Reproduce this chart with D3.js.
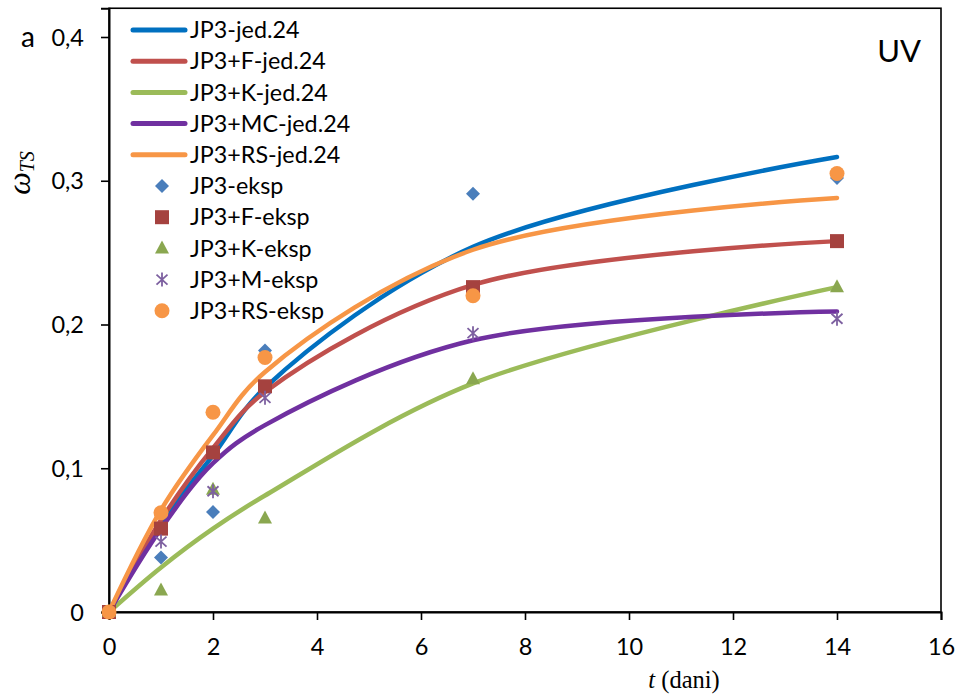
<!DOCTYPE html>
<html><head><meta charset="utf-8">
<script src="https://cdn.jsdelivr.net/npm/d3@7"></script>
<style>
html,body{margin:0;padding:0;background:#fff;}
svg{display:block;}
</style></head>
<body>
<svg id="chart" width="960" height="695"></svg>
<script>
// ---- data ----
const days = [0, 1, 2, 3, 7, 14];
const xTicks = [0, 2, 4, 6, 8, 10, 12, 14, 16];
const yTicks = [0, 0.1, 0.2, 0.3, 0.4];
const yTickLabels = ["0", "0,1", "0,2", "0,3", "0,4"];

const modelNames = ["JP3-jed.24", "JP3+F-jed.24", "JP3+K-jed.24", "JP3+MC-jed.24", "JP3+RS-jed.24"];
const modelColors = ["#0070C0", "#C0504D", "#9BBB59", "#7030A0", "#F79646"];
const jp3Model = [0, 0.062, 0.109, 0.156, 0.254, 0.3165];
const fModel   = [0, 0.064, 0.114, 0.153, 0.2275, 0.258];
const kModel   = [0, 0.031, 0.058, 0.081, 0.159, 0.226];
const mcModel  = [0, 0.058, 0.1035, 0.130, 0.189, 0.209];
const rsModel  = [0, 0.071, 0.123, 0.167, 0.252, 0.288];

const expNames = ["JP3-eksp", "JP3+F-eksp", "JP3+K-eksp", "JP3+M-eksp", "JP3+RS-eksp"];
const expColors = ["#4A7EBB", "#A5423F", "#8AA750", "#7D60A0", "#F79646"];
const expShapes = ["diamond", "square", "triangle", "asterisk", "circle"];
const jp3Exp = [0, 0.038, 0.0695, 0.182, 0.291, 0.302];
const fExp   = [0, 0.058, 0.111, 0.157, 0.226, 0.258];
const kExp   = [0, 0.015, 0.085, 0.065, 0.162, 0.226];
const mExp   = [0, 0.049, 0.084, 0.149, 0.194, 0.204];
const rsExp  = [0, 0.069, 0.139, 0.177, 0.220, 0.305];

const models = [jp3Model, fModel, kModel, mcModel, rsModel];
const exps = [jp3Exp, fExp, kExp, mExp, rsExp];

// ---- layout ----
const svg = d3.select("#chart");
const L = 109, R = 941, T = 8.25, B = 612;
const x = d3.scaleLinear().domain([0, 16]).range([L, R]);
const y = d3.scaleLinear().domain([0, 0.42]).range([B, T]);
const sans = "Lato, 'Open Sans', sans-serif";
const serif = "'Liberation Serif', 'DejaVu Serif', serif";

// frame
svg.append("rect").attr("x", L).attr("y", T).attr("width", R - L).attr("height", B - T)
  .attr("fill", "none").attr("stroke", "#000").attr("stroke-width", 1.6);

// axes
const xAxis = d3.axisBottom(x).tickValues(xTicks).tickSize(8).tickFormat(d3.format("d"));
const gx = svg.append("g").attr("transform", `translate(0,${B})`).call(xAxis);
gx.select(".domain").attr("stroke-width", 2);
gx.selectAll(".tick line").attr("stroke-width", 1.6);
gx.selectAll("text").attr("font-family", sans).attr("font-size", 23.5).attr("fill", "#000").attr("dy", "0").attr("y", 43);

const yAxis = d3.axisLeft(y).tickValues(yTicks).tickSize(8).tickFormat((d, i) => yTickLabels[i]);
const gy = svg.append("g").attr("transform", `translate(${L},0)`).call(yAxis);
gy.select(".domain").attr("stroke-width", 2);
gy.selectAll(".tick line").attr("stroke-width", 1.6);
gy.selectAll("text").attr("font-family", sans).attr("font-size", 23.5).attr("fill", "#000").attr("x", -25).attr("dy", "0.35em");

// model lines
const line = d3.line().x((d, i) => x(days[i])).y(d => y(d)).curve(d3.curveCatmullRom.alpha(0.5));
models.forEach((m, k) => {
  svg.append("path").datum(m).attr("d", line).attr("fill", "none")
    .attr("stroke", modelColors[k]).attr("stroke-width", 4.5).attr("stroke-linecap", "round").attr("stroke-linejoin", "round");
});

// markers
function marker(g, shape, color) {
  if (shape === "diamond") {
    g.append("path").attr("d", "M0,-7L7,0L0,7L-7,0Z").attr("fill", color);
  } else if (shape === "square") {
    g.append("rect").attr("x", -7).attr("y", -7).attr("width", 14).attr("height", 14).attr("fill", color);
  } else if (shape === "triangle") {
    g.append("path").attr("d", "M0,-8L7,5L-7,5Z").attr("fill", color);
  } else if (shape === "asterisk") {
    g.append("path").attr("d", "M0,-7L0,7M-5.5,-5L5.5,5M-5.5,5L5.5,-5").attr("stroke", color).attr("stroke-width", 1.8).attr("fill", "none");
  } else {
    g.append("circle").attr("r", 7.5).attr("fill", color);
  }
}
exps.forEach((e, k) => {
  e.forEach((v, i) => {
    const g = svg.append("g").attr("transform", `translate(${x(days[i])},${y(v)})`);
    marker(g, expShapes[k], expColors[k]);
  });
});

// legend
const lg = svg.append("g");
const rowH = 31.2, row0 = 30;
modelNames.forEach((n, k) => {
  const yy = row0 + k * rowH;
  lg.append("line").attr("x1", 133).attr("x2", 185).attr("y1", yy).attr("y2", yy)
    .attr("stroke", modelColors[k]).attr("stroke-width", 5).attr("stroke-linecap", "round");
  lg.append("text").attr("x", 190).attr("y", yy).attr("dy", "0.35em").attr("font-family", sans)
    .attr("font-size", 23.3).text(n);
});
expNames.forEach((n, k) => {
  const yy = row0 + (k + 5) * rowH;
  const g = lg.append("g").attr("transform", `translate(162,${yy})`);
  marker(g, expShapes[k], expColors[k]);
  lg.append("text").attr("x", 190).attr("y", yy).attr("dy", "0.35em").attr("font-family", sans)
    .attr("font-size", 23.3).text(n);
});

// annotations
svg.append("text").attr("x", 21).attr("y", 37).attr("dy", "0.35em").attr("font-family", sans).attr("font-size", 28).text("a");
svg.append("text").attr("x", 921).attr("y", 62).attr("text-anchor", "end").attr("font-family", sans).attr("font-size", 31).text("UV");

// axis titles
const yl = svg.append("text").attr("transform", "translate(30,173) rotate(-90)").attr("text-anchor", "middle")
  .attr("font-family", serif).attr("font-style", "italic");
yl.append("tspan").attr("font-size", 32).text("ω");
yl.append("tspan").attr("font-size", 20).attr("dy", 4).text("TS");

const xl = svg.append("text").attr("x", 684).attr("y", 688).attr("text-anchor", "middle")
  .attr("font-family", serif).attr("font-size", 24.5);
xl.append("tspan").attr("font-style", "italic").text("t");
xl.append("tspan").text(" (dani)");
</script>
</body></html>
